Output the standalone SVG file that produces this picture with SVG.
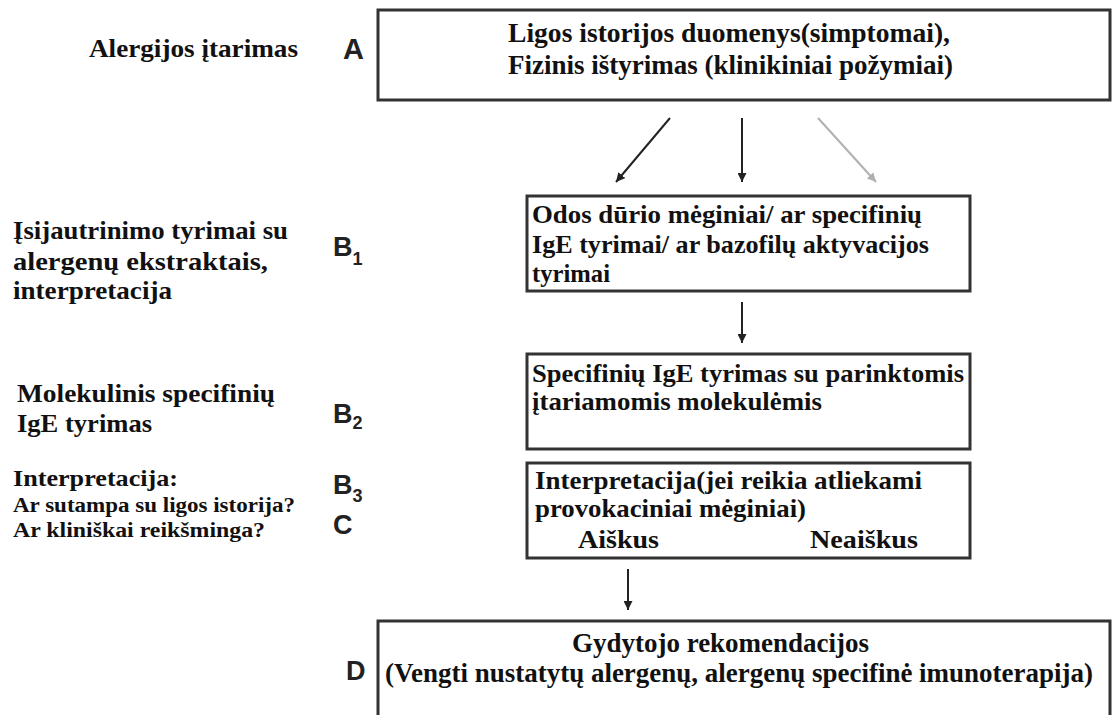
<svg xmlns="http://www.w3.org/2000/svg" width="1112" height="715" viewBox="0 0 1112 715">
<style>
.box{fill:#fff;stroke:#333;stroke-width:3}
.t{font-family:"Liberation Serif","Times New Roman",serif;font-weight:bold;fill:#111}
.lab{font-family:"Liberation Sans",Arial,sans-serif;font-weight:bold;fill:#222}
.c{stroke:#222;stroke-width:2;fill:none}
.cg{stroke:#b0b0b0;stroke-width:2;fill:none}
</style>
<defs>
<marker id="ah" viewBox="0 0 10 10" refX="10" refY="5" markerWidth="9" markerHeight="9" markerUnits="userSpaceOnUse" orient="auto"><path d="M0,0 L10,5 L0,10 z" fill="#222"/></marker>
<marker id="ahg" viewBox="0 0 10 10" refX="10" refY="5" markerWidth="9" markerHeight="9" markerUnits="userSpaceOnUse" orient="auto"><path d="M0,0 L10,5 L0,10 z" fill="#b0b0b0"/></marker>
</defs>
<rect width="1112" height="715" fill="#fff"/>

<g id="left-labels">
<text class="t" x="89" y="57" font-size="26" textLength="209" lengthAdjust="spacingAndGlyphs">Alergijos įtarimas</text>
<text class="t" x="13" y="239" font-size="25" textLength="275" lengthAdjust="spacingAndGlyphs">Įsijautrinimo tyrimai su</text>
<text class="t" x="13" y="270" font-size="25" textLength="255" lengthAdjust="spacingAndGlyphs">alergenų ekstraktais,</text>
<text class="t" x="13" y="299" font-size="25" textLength="159" lengthAdjust="spacingAndGlyphs">interpretacija</text>
<text class="t" x="17" y="402" font-size="25" textLength="258" lengthAdjust="spacingAndGlyphs">Molekulinis specifinių</text>
<text class="t" x="17" y="432" font-size="25" textLength="135" lengthAdjust="spacingAndGlyphs">IgE tyrimas</text>
<text class="t" x="13" y="486" font-size="23" textLength="165" lengthAdjust="spacingAndGlyphs">Interpretacija:</text>
<text class="t" x="13" y="512" font-size="20" textLength="282" lengthAdjust="spacingAndGlyphs">Ar sutampa su ligos istorija?</text>
<text class="t" x="13" y="537" font-size="20" textLength="252" lengthAdjust="spacingAndGlyphs">Ar kliniškai reikšminga?</text>
</g>

<g id="step-letters">
<text class="lab" x="343" y="59" font-size="29">A</text>
<text class="lab" x="333" y="256" font-size="27">B<tspan font-size="18" dy="9">1</tspan></text>
<text class="lab" x="333" y="423" font-size="27">B<tspan font-size="18" dy="6">2</tspan></text>
<text class="lab" x="333" y="494" font-size="27">B<tspan font-size="18" dy="8">3</tspan></text>
<text class="lab" x="333" y="534" font-size="27">C</text>
<text class="lab" x="346" y="680" font-size="27">D</text>
</g>

<g id="node-A">
<rect class="box" x="378" y="10" width="732" height="90"/>
<text class="t" x="508" y="42" font-size="28" textLength="442" lengthAdjust="spacingAndGlyphs">Ligos istorijos duomenys(simptomai),</text>
<text class="t" x="508" y="74" font-size="28" textLength="445" lengthAdjust="spacingAndGlyphs">Fizinis ištyrimas (klinikiniai požymiai)</text>
</g>

<g id="node-B1">
<rect class="box" x="527" y="196" width="443" height="95"/>
<text class="t" x="532" y="223" font-size="26" textLength="390" lengthAdjust="spacingAndGlyphs">Odos dūrio mėginiai/ ar specifinių</text>
<text class="t" x="532" y="253" font-size="26" textLength="397" lengthAdjust="spacingAndGlyphs">IgE tyrimai/ ar bazofilų aktyvacijos</text>
<text class="t" x="532" y="282" font-size="26" textLength="78" lengthAdjust="spacingAndGlyphs">tyrimai</text>
</g>

<g id="node-B2">
<rect class="box" x="527" y="354" width="443" height="95"/>
<text class="t" x="532" y="382" font-size="26" textLength="432" lengthAdjust="spacingAndGlyphs">Specifinių IgE tyrimas su parinktomis</text>
<text class="t" x="532" y="410" font-size="26" textLength="290" lengthAdjust="spacingAndGlyphs">įtariamomis molekulėmis</text>
</g>

<g id="node-B3">
<rect class="box" x="527" y="463" width="443" height="95"/>
<text class="t" x="535" y="489" font-size="26" textLength="387" lengthAdjust="spacingAndGlyphs">Interpretacija(jei reikia atliekami</text>
<text class="t" x="535" y="517" font-size="26" textLength="271" lengthAdjust="spacingAndGlyphs">provokaciniai mėginiai)</text>
<text class="t" x="578" y="548" font-size="26" textLength="81" lengthAdjust="spacingAndGlyphs">Aiškus</text>
<text class="t" x="810" y="548" font-size="26" textLength="108" lengthAdjust="spacingAndGlyphs">Neaiškus</text>
</g>

<g id="node-D">
<path class="box" d="M378,715 V621 H1110 V715"/>
<text class="t" x="572" y="652" font-size="28" textLength="297" lengthAdjust="spacingAndGlyphs">Gydytojo rekomendacijos</text>
<text class="t" x="385" y="682" font-size="27" textLength="708" lengthAdjust="spacingAndGlyphs">(Vengti nustatytų alergenų, alergenų specifinė imunoterapija)</text>
</g>

<g id="connectors">
<line class="c" x1="670" y1="118" x2="616" y2="182" marker-end="url(#ah)"/>
<line class="c" x1="742" y1="118" x2="742" y2="182" marker-end="url(#ah)"/>
<line class="cg" x1="818" y1="118" x2="876" y2="182" marker-end="url(#ahg)"/>
<line class="c" x1="742" y1="302" x2="742" y2="343" marker-end="url(#ah)"/>
<line class="c" x1="628" y1="569" x2="628" y2="610" marker-end="url(#ah)"/>
</g>
</svg>
